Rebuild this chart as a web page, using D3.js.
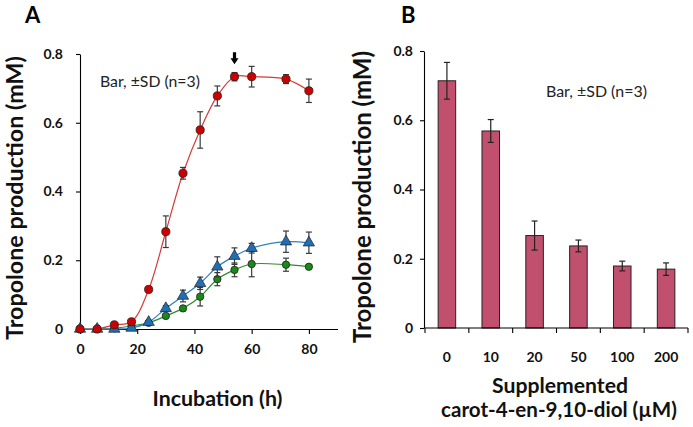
<!DOCTYPE html>
<html><head><meta charset="utf-8">
<script src="https://cdn.jsdelivr.net/npm/d3@7"></script>
<style>body{margin:0;background:#fff}svg{display:block}text{font-family:Lato,"Open Sans",sans-serif}</style>
</head><body>
<svg id="c" width="693" height="427"></svg>
<script>
// ---- Panel A data ----
const hours = [0,6,12,18,24,30,36,42,48,54,60,72,80];
const redVals   = [0,0,0.012,0.021,0.115,0.283,0.453,0.579,0.678,0.734,0.734,0.727,0.693];
const redSD     = [0,0,0,0,0,0.046,0.017,0.053,0.029,0.012,0.030,0.013,0.034];
const blueVals  = [0,0,0,0.003,0.02,0.060,0.096,0.133,0.181,0.212,0.235,0.254,0.251];
const blueSD    = [0,0,0,0,0,0.008,0.017,0.018,0.029,0.024,0.014,0.031,0.031];
const greenVals = [0,0,0.002,0.009,0.018,0.038,0.060,0.094,0.145,0.172,0.189,0.187,0.181];
const greenSD   = [0,0,0,0,0,0.006,0.006,0.027,0.019,0.020,0.037,0.019,0.005];
const xTicksA = [0,20,40,60,80];
const yTicks = [0,0.2,0.4,0.6,0.8];
const arrowHour = 54;
// ---- Panel B data ----
const concs = ["0","10","20","50","100","200"];
const barVals = [0.714,0.569,0.267,0.237,0.179,0.170];
const barSD   = [0.053,0.033,0.042,0.017,0.014,0.018];

const svg = d3.select("#c");
const fmt = d => d === 0 ? "0" : d3.format(".1f")(d);
function fit(sel, w){ const L = sel.node().getComputedTextLength(); sel.attr("font-size", parseFloat(sel.attr("font-size"))*w/L); return sel; }

// ================= Panel A =================
const xA = d3.scaleLinear().domain([0,90]).range([80,337.5]);
const yA = d3.scaleLinear().domain([0,0.8]).range([329,54]);
const gA = svg.append("g");

const axA_x = gA.append("g").attr("transform",`translate(0,${yA(0)})`)
  .call(d3.axisBottom(xA).tickValues(xTicksA).tickSize(5).tickSizeOuter(0).tickPadding(10).tickFormat(d3.format("d")));
const axA_y = gA.append("g").attr("transform",`translate(${xA(0)},0)`)
  .call(d3.axisLeft(yA).tickValues(yTicks).tickSize(4).tickSizeOuter(0).tickPadding(13).tickFormat(fmt));
[axA_x, axA_y].forEach(a=>{ a.selectAll("path,line").attr("stroke","#000").attr("stroke-width",1.1);
  a.selectAll("text").attr("font-size",14).attr("font-weight","bold").attr("fill","#111").style("font-family","Lato"); });

const seriesA = [
  {vals: greenVals, sd: greenSD, line:"#2e8b2e", fill:"#188a18", shape:"circle", r:3.7},
  {vals: blueVals, sd: blueSD, line:"#2f7fc1", fill:"#1f6fb8", shape:"tri", r:4.6},
  {vals: redVals, sd: redSD, line:"#d63a3a", fill:"#cc0000", shape:"circle", r:4.1}
];
const lineGen = d3.line().x(d=>xA(d[0])).y(d=>yA(d[1])).curve(d3.curveCatmullRom.alpha(0.5));
seriesA.forEach(s=>{
  const pts = hours.map((h,i)=>[h,s.vals[i]]);
  gA.append("path").attr("d",lineGen(pts)).attr("fill","none").attr("stroke",s.line).attr("stroke-width",1.2);
});
seriesA.forEach(s=>{
  const g = gA.append("g");
  hours.forEach((h,i)=>{
    const sd = s.sd[i]; if(!sd) return;
    const cx = xA(h), y1 = yA(s.vals[i]+sd), y2 = yA(s.vals[i]-sd);
    g.append("line").attr("x1",cx).attr("x2",cx).attr("y1",y1).attr("y2",y2).attr("stroke","#3a3a3a").attr("stroke-width",1.2);
    [y1,y2].forEach(yy=>g.append("line").attr("x1",cx-3).attr("x2",cx+3).attr("y1",yy).attr("y2",yy).attr("stroke","#3a3a3a").attr("stroke-width",1.2));
  });
  hours.forEach((h,i)=>{
    const cx = xA(h), cy = yA(s.vals[i]);
    if(s.shape==="circle") g.append("circle").attr("cx",cx).attr("cy",cy).attr("r",s.r).attr("fill",s.fill).attr("stroke","#222").attr("stroke-width",0.8);
    else g.append("path").attr("transform",`translate(${cx},${cy})`)
      .attr("d",d3.symbol(d3.symbolTriangle, 55)()).attr("fill",s.fill).attr("stroke","#222").attr("stroke-width",0.7);
  });
});
// arrow
{
  const ax = xA(arrowHour), tip = yA(0.77);
  gA.append("path").attr("d",`M${ax-1.6},${tip-12} L${ax+1.6},${tip-12} L${ax+1.6},${tip-6} L${ax+4},${tip-6} L${ax},${tip} L${ax-4},${tip-6} L${ax-1.6},${tip-6} Z`).attr("fill","#000");
}
fit(gA.append("text").attr("x",100).attr("y",87).attr("font-size",12).attr("fill","#222").text("Bar, \u00B1SD (n=3)"),100);
fit(gA.append("text").attr("transform","translate(23,198) rotate(-90)").attr("text-anchor","middle").attr("font-size",20).attr("font-weight","bold").attr("fill","#111").text("Tropolone production (mM)"),284);
fit(gA.append("text").attr("x",217.5).attr("y",406).attr("text-anchor","middle").attr("font-size",18).attr("font-weight","bold").attr("fill","#111").text("Incubation (h)"),130);
svg.append("text").attr("x",25).attr("y",23).attr("font-size",22).attr("font-weight","bold").attr("fill","#000").text("A");

// ================= Panel B =================
const xB = d3.scaleBand().domain(concs).range([425,688]).paddingInner(0.6).paddingOuter(0.3);
const yB = d3.scaleLinear().domain([0,0.8]).range([328,51]);
const gB = svg.append("g");
const step = xB.step();
const x0 = xB.range()[0];

concs.forEach((c,i)=>{
  gB.append("rect").attr("x",xB(c)).attr("y",yB(barVals[i])).attr("width",xB.bandwidth()).attr("height",yB(0)-yB(barVals[i]))
    .attr("fill","#c0506e").attr("stroke","#2b1f22").attr("stroke-width",1);
});
concs.forEach((c,i)=>{
  const cx = xB(c)+xB.bandwidth()/2, y1 = yB(barVals[i]+barSD[i]), y2 = yB(barVals[i]-barSD[i]);
  gB.append("line").attr("x1",cx).attr("x2",cx).attr("y1",y1).attr("y2",y2).attr("stroke","#222").attr("stroke-width",1.2);
  [y1,y2].forEach(yy=>gB.append("line").attr("x1",cx-3).attr("x2",cx+3).attr("y1",yy).attr("y2",yy).attr("stroke","#222").attr("stroke-width",1.2));
});
const axB_x = gB.append("g").attr("transform",`translate(0,${yB(0)})`)
  .call(d3.axisBottom(xB).tickSize(0).tickPadding(24));
axB_x.select(".domain").remove();
axB_x.selectAll("text").attr("font-size",14).attr("font-weight","bold").attr("fill","#111").style("font-family","Lato");
gB.append("line").attr("x1",x0).attr("x2",xB.range()[1]).attr("y1",yB(0)).attr("y2",yB(0)).attr("stroke","#000").attr("stroke-width",1.1);
d3.range(concs.length+1).forEach(i=>{
  gB.append("line").attr("x1",x0+i*step).attr("x2",x0+i*step).attr("y1",yB(0)).attr("y2",yB(0)+5).attr("stroke","#000").attr("stroke-width",1.1);
});
const axB_y = gB.append("g").attr("transform",`translate(${x0-1},0)`)
  .call(d3.axisLeft(yB).tickValues(yTicks).tickSize(4).tickSizeOuter(0).tickPadding(7).tickFormat(fmt));
axB_y.selectAll("path,line").attr("stroke","#000").attr("stroke-width",1.1);
axB_y.selectAll("text").attr("font-size",14).attr("font-weight","bold").attr("fill","#111").style("font-family","Lato");

fit(gB.append("text").attr("x",546).attr("y",97).attr("font-size",12).attr("fill","#222").text("Bar, \u00B1SD (n=3)"),101);
fit(gB.append("text").attr("transform","translate(371,197) rotate(-90)").attr("text-anchor","middle").attr("font-size",20).attr("font-weight","bold").attr("fill","#111").text("Tropolone production (mM)"),292);
fit(gB.append("text").attr("x",560).attr("y",393).attr("text-anchor","middle").attr("font-size",18).attr("font-weight","bold").attr("fill","#111").text("Supplemented"),136);
fit(gB.append("text").attr("x",559).attr("y",417).attr("text-anchor","middle").attr("font-size",18).attr("font-weight","bold").attr("fill","#111").text("carot-4-en-9,10-diol (\u00B5M)"),236);
svg.append("text").attr("x",401).attr("y",23).attr("font-size",22).attr("font-weight","bold").attr("fill","#000").text("B");
</script>
</body></html>
